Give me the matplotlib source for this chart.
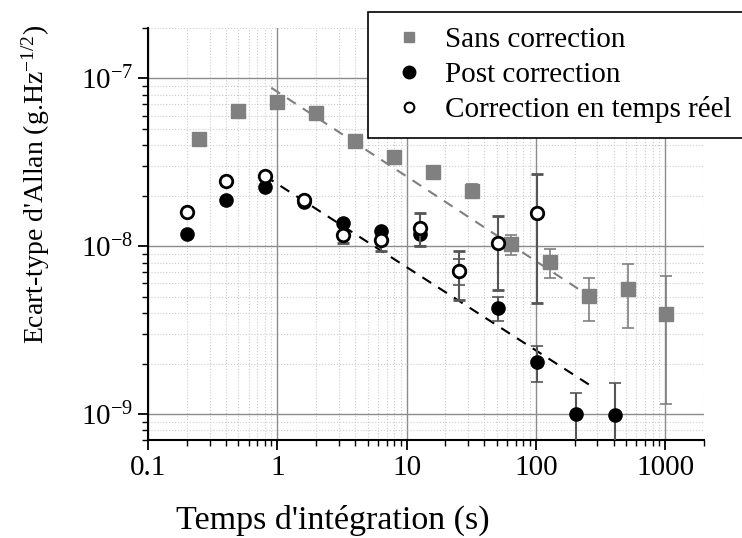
import matplotlib.pyplot as plt
from matplotlib.lines import Line2D
from matplotlib.ticker import NullFormatter
import numpy as np

plt.rcParams['font.family'] = ['Liberation Serif', 'DejaVu Serif']
plt.rcParams['mathtext.fontset'] = 'custom'
plt.rcParams['mathtext.rm'] = 'Liberation Serif'
plt.rcParams['mathtext.it'] = 'Liberation Serif:italic'

# Sans correction (grey squares)
tau_sans = [0.25, 0.5, 1, 2, 4, 8, 16, 32, 64, 128, 256, 512, 1024]
sig_sans = [4.37e-8, 6.37e-8, 7.25e-8, 6.23e-8, 4.25e-8, 3.40e-8, 2.76e-8,
            2.14e-8, 1.03e-8, 8.05e-9, 5.02e-9, 5.58e-9, 3.92e-9]
lo_sans = [4.37e-8, 6.37e-8, 7.25e-8, 6.23e-8, 4.25e-8, 3.40e-8, 2.76e-8,
           1.93e-8, 8.83e-9, 6.50e-9, 3.60e-9, 3.27e-9, 1.14e-9]
hi_sans = [4.37e-8, 6.37e-8, 7.25e-8, 6.23e-8, 4.25e-8, 3.40e-8, 2.76e-8,
           2.34e-8, 1.175e-8, 9.69e-9, 6.46e-9, 7.87e-9, 6.64e-9]

# Post correction (black circles)
tau_post = [0.2, 0.4, 0.8, 1.6, 3.2, 6.4, 12.8, 25.6, 51.2, 102.4, 204.8, 409.6]
sig_post = [1.19e-8, 1.88e-8, 2.265e-8, 1.84e-8, 1.37e-8, 1.23e-8, 1.19e-8,
            7.1e-9, 4.27e-9, 2.05e-9, 9.96e-10, 9.86e-10]
lo_post = [1.19e-8, 1.88e-8, 2.265e-8, 1.84e-8, 1.37e-8, 1.23e-8, 1.01e-8,
           5.9e-9, 3.57e-9, 1.56e-9, 5e-10, 5e-10]
hi_post = [1.19e-8, 1.88e-8, 2.265e-8, 1.84e-8, 1.37e-8, 1.23e-8, 1.19e-8,
           8.4e-9, 4.97e-9, 2.53e-9, 1.34e-9, 1.54e-9]

# Correction en temps reel (open circles)
tau_rt = [0.2, 0.4, 0.8, 1.6, 3.2, 6.4, 12.8, 25.6, 51.2, 102.4]
sig_rt = [1.60e-8, 2.46e-8, 2.64e-8, 1.89e-8, 1.17e-8, 1.09e-8, 1.29e-8,
          7.11e-9, 1.04e-8, 1.57e-8]
lo_rt = [1.55e-8, 2.40e-8, 2.64e-8, 1.86e-8, 1.05e-8, 9.4e-9, 1.01e-8,
         4.8e-9, 5.45e-9, 4.58e-9]
hi_rt = [1.65e-8, 2.52e-8, 2.64e-8, 1.92e-8, 1.17e-8, 1.09e-8, 1.57e-8,
         9.33e-9, 1.52e-8, 2.69e-8]

# fit lines (end points)
fit_sans_x = [0.9, 279]
fit_sans_y = [8.8e-8, 4.86e-9]
fit_post_x = [0.8, 279]
fit_post_y = [2.63e-8, 1.44e-9]

grey = '#808080'
ebar = '#555555'

fig = plt.figure(figsize=(7.42, 5.38), dpi=100)
ax = fig.add_axes([148/742, 1-440/538, 556/742, 412/538])


def errs(v, lo, hi):
    v = np.array(v); lo = np.array(lo); hi = np.array(hi)
    return [v - lo, hi - v]


ax.errorbar(tau_sans, sig_sans, yerr=errs(sig_sans, lo_sans, hi_sans), fmt='s',
            color=grey, ms=9.5, mec=grey, ecolor=grey, elinewidth=1.2,
            capsize=4.5, capthick=1.2, zorder=3)
ax.errorbar(tau_post, sig_post, yerr=errs(sig_post, lo_post, hi_post), fmt='o',
            color='black', ms=9.5, ecolor=ebar, elinewidth=1.5,
            capsize=4.5, capthick=1.2, zorder=4)
ax.errorbar(tau_rt, sig_rt, yerr=errs(sig_rt, lo_rt, hi_rt), fmt='o',
            mfc='white', mec='black', mew=2, ms=9, ecolor=ebar, elinewidth=1.5,
            capsize=4.5, capthick=1.2, zorder=5)

ax.plot(fit_sans_x, fit_sans_y, color=grey, ls=(0, (5, 4)), lw=1.5, zorder=2)
ax.plot(fit_post_x, fit_post_y, color='black', ls=(0, (5, 4)), lw=1.5, zorder=2)

ax.set_xscale('log')
ax.set_yscale('log')
ax.set_xlim(0.1, 2000)
ax.set_ylim(7e-10, 2e-7)
ax.set_xticks([0.1, 1, 10, 100, 1000])
ax.set_xticklabels(['0.1', '1', '10', '100', '1000'])
ax.xaxis.set_minor_formatter(NullFormatter())
ax.yaxis.set_minor_formatter(NullFormatter())

ax.grid(True, which='major', color='#8c8c8c', lw=1, ls='-')
ax.grid(True, which='minor', color='#cccccc', lw=0.8, ls=':')
ax.set_axisbelow(True)

for s in ['top', 'right']:
    ax.spines[s].set_visible(False)
for s in ['left', 'bottom']:
    ax.spines[s].set_linewidth(1.5)

ax.tick_params(which='major', direction='out', length=7, width=1.3, labelsize=21)
ax.tick_params(which='minor', direction='out', length=4, width=1.0)

ax.set_xlabel("Temps d'intégration (s)", fontsize=24.5)
ax.xaxis.set_label_coords(0.333, -0.157)
ax.set_ylabel("Ecart-type d'Allan (g.Hz$^{-1/2}$)", fontsize=20)
ax.yaxis.set_label_coords(-0.172, 0.62)

handles = [
    Line2D([], [], ls='none', marker='s', color=grey, ms=7),
    Line2D([], [], ls='none', marker='o', color='black', ms=9),
    Line2D([], [], ls='none', marker='o', mfc='white', mec='black', mew=1.5, ms=7),
]
leg = ax.legend(handles, ['Sans correction', 'Post correction', 'Correction en temps réel'],
                loc='upper right', bbox_to_anchor=(1.005, 1 - 12/538),
                bbox_transform=fig.transFigure, borderaxespad=0, fontsize=21,
                frameon=True, fancybox=False, edgecolor='black', framealpha=1,
                handlelength=1.85, handletextpad=0.28, labelspacing=0.29,
                borderpad=0.5)
leg.get_frame().set_linewidth(1.2)

fig.savefig('out.png', dpi=100)
